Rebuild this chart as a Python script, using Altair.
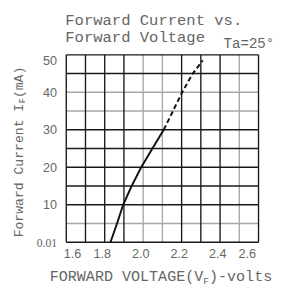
import altair as alt
import pandas as pd

# ---- data ----
x_ticks = [1.6, 1.8, 2.0, 2.2, 2.4, 2.6]
y_ticks = [0, 10, 20, 30, 40, 50]

v_grid = [1.6, 1.7, 1.8, 1.9, 2.0, 2.1, 2.2, 2.3, 2.4, 2.5, 2.6]
v_grid_dark = [True, True, True, True, False, False, True, True, True, False, True]
h_grid = [0, 5, 10, 15, 20, 25, 30, 35, 40, 45, 50]
h_grid_dark = [True, False, True, True, True, True, True, False, False, True, True]

solid_v = [1.830, 1.864, 1.896, 1.940, 1.990, 2.048, 2.107]
solid_i = [0, 5, 10, 15, 20, 25, 30]
dash_v = [2.107, 2.155, 2.203, 2.258, 2.310]
dash_i = [30, 35, 40, 45, 48.5]

W, H = 198, 193
DARK = "#1a1a1a"
LIGHT = "#a8a8a8"
TXT = "#666666"

xs = alt.Scale(domain=[1.6, 2.6], nice=False, zero=False)
ys = alt.Scale(domain=[0, 50], nice=False)

xaxis = alt.Axis(values=x_ticks, format=".1f", grid=False, ticks=False, domain=False, title=None,
                 labelFont="Liberation Sans", labelFontSize=13, labelColor=TXT,
                 labelPadding=6, labelOffset=-3)
yaxis = alt.Axis(values=y_ticks, grid=False, ticks=False, domain=False, title=None,
                 labelExpr="datum.value == 0 ? '0.01' : datum.label",
                 labelFont={"condition": {"test": "datum.value == 0", "value": "Liberation Serif"},
                            "value": "Liberation Sans"},
                 labelFontSize={"condition": {"test": "datum.value == 0", "value": 12},
                                "value": 13},
                 labelBaseline={"condition": {"test": "datum.value == 50", "value": "top"},
                                "value": "middle"},
                 labelColor=TXT, labelPadding=10)

X = lambda f: alt.X(f, scale=xs, axis=xaxis)
Y = lambda f: alt.Y(f, scale=ys, axis=yaxis)

vdf = pd.DataFrame({"v": v_grid, "c": [DARK if d else LIGHT for d in v_grid_dark]})
hdf = pd.DataFrame({"i": h_grid, "c": [DARK if d else LIGHT for d in h_grid_dark]})
sdf = pd.DataFrame({"v": solid_v, "i": solid_i})
ddf = pd.DataFrame({"v": dash_v, "i": dash_i})

# light lines first, dark on top
vlight = alt.Chart(vdf).transform_filter(f"datum.c == '{LIGHT}'").mark_rule(strokeWidth=1.4).encode(
    x=X("v:Q"), color=alt.Color("c:N", scale=None))
hlight = alt.Chart(hdf).transform_filter(f"datum.c == '{LIGHT}'").mark_rule(strokeWidth=1.4).encode(
    y=Y("i:Q"), color=alt.Color("c:N", scale=None))
vdark = alt.Chart(vdf).transform_filter(f"datum.c == '{DARK}'").mark_rule(strokeWidth=1.4).encode(
    x=X("v:Q"), color=alt.Color("c:N", scale=None))
hdark = alt.Chart(hdf).transform_filter(f"datum.c == '{DARK}'").mark_rule(strokeWidth=1.4).encode(
    y=Y("i:Q"), color=alt.Color("c:N", scale=None))

solid = alt.Chart(sdf).mark_line(color="#111111", strokeWidth=2).encode(
    x=X("v:Q"), y=Y("i:Q"), order="i:Q")
dashed = alt.Chart(ddf).mark_line(color="#111111", strokeWidth=2, strokeDash=[5, 3]).encode(
    x=X("v:Q"), y=Y("i:Q"), order="i:Q")

one = pd.DataFrame({"k": [0]})
MONO = "Liberation Mono"


def txt(s, x, y, size, angle=0, align="left", baseline="alphabetic"):
    kw = dict(text=s, font=MONO, fontSize=size, color=TXT, align=align, baseline=baseline)
    if angle:
        kw["angle"] = angle
    return alt.Chart(one).mark_text(**kw).encode(x=alt.value(x), y=alt.value(y))


texts = [
    txt("Forward Current vs.", -1, -31, 16),
    txt("Forward Voltage", -1, -13, 16),
    txt("Ta=25°", 162, -7, 14.5),
    # y title (rotated)
    txt("Forward Current I", -49, 188, 13.5, angle=270, baseline="middle"),
    txt("F", -45, 50, 9, angle=270, baseline="middle"),
    txt(" (mA)", -49, 44.6, 13.5, angle=270, baseline="middle"),
    # x title
    txt("FORWARD VOLTAGE(V", -17, 233, 15.5),
    txt("F", 141, 236, 10),
    txt(")-volts", 147, 233, 15.5),
]

chart = alt.layer(vlight, hlight, vdark, hdark, solid, dashed, *texts).properties(
    width=W, height=H,
    autosize=alt.AutoSizeParams(type="none"),
    padding={"left": 60, "top": 44, "right": 18, "bottom": 45},
    background="white",
).configure_view(stroke=None)

chart.save("out.html", embed_options={"renderer": "svg", "actions": False})
